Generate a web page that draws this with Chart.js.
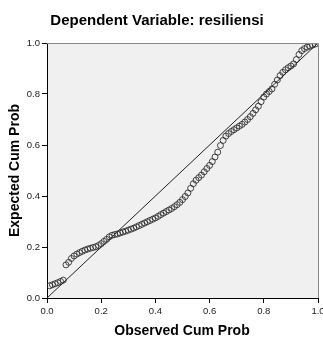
<!DOCTYPE html>
<html>
<head>
<meta charset="utf-8">
<script src="https://cdn.jsdelivr.net/npm/chart.js@4"></script>
<style>
  html, body { margin: 0; padding: 0; background: #fff; }
  #wrap { width: 323px; height: 338px; }
</style>
</head>
<body>
<div id="wrap"><canvas id="pp"></canvas></div>
<script>
const chartTitle = 'Dependent Variable: resiliensi';
const xTitle = 'Observed Cum Prob';
const yTitle = 'Expected Cum Prob';
const tickValues = [0, 0.2, 0.4, 0.6, 0.8, 1.0];

const observed = [
    0.01, 0.02, 0.03, 0.04, 0.05, 0.06, 0.07, 0.08, 0.09, 0.10,
    0.11, 0.12, 0.13, 0.14, 0.15, 0.16, 0.17, 0.18, 0.19, 0.20,
    0.21, 0.22, 0.23, 0.24, 0.25, 0.26, 0.27, 0.28, 0.29, 0.30,
    0.31, 0.32, 0.33, 0.34, 0.35, 0.36, 0.37, 0.38, 0.39, 0.40,
    0.41, 0.42, 0.43, 0.44, 0.45, 0.46, 0.47, 0.48, 0.49, 0.50,
    0.51, 0.52, 0.53, 0.54, 0.55, 0.56, 0.57, 0.58, 0.59, 0.60,
    0.61, 0.62, 0.63, 0.64, 0.65, 0.66, 0.67, 0.68, 0.69, 0.70,
    0.71, 0.72, 0.73, 0.74, 0.75, 0.76, 0.77, 0.78, 0.79, 0.80,
    0.81, 0.82, 0.83, 0.84, 0.85, 0.86, 0.87, 0.88, 0.89, 0.90,
    0.91, 0.92, 0.93, 0.94, 0.95, 0.96, 0.97, 0.98, 0.99
];
const expected = [
    0.048, 0.052, 0.056, 0.060, 0.065, 0.070, 0.130, 0.140, 0.155, 0.165,
    0.172, 0.178, 0.183, 0.188, 0.192, 0.195, 0.198, 0.201, 0.206, 0.213,
    0.222, 0.230, 0.240, 0.246, 0.249, 0.251, 0.255, 0.259, 0.262, 0.266,
    0.270, 0.274, 0.279, 0.284, 0.289, 0.294, 0.299, 0.304, 0.309, 0.314,
    0.320, 0.327, 0.333, 0.339, 0.345, 0.351, 0.358, 0.366, 0.375, 0.386,
    0.398, 0.412, 0.430, 0.448, 0.462, 0.472, 0.482, 0.495, 0.508, 0.520,
    0.535, 0.553, 0.572, 0.598, 0.618, 0.635, 0.645, 0.653, 0.660, 0.667,
    0.674, 0.681, 0.690, 0.700, 0.711, 0.724, 0.738, 0.752, 0.770, 0.788,
    0.800, 0.810, 0.820, 0.838, 0.855, 0.872, 0.885, 0.895, 0.903, 0.910,
    0.918, 0.935, 0.955, 0.970, 0.978, 0.984, 0.988, 0.992, 0.996
];
const refLine = [0, 1];

// Fond gris, cadre et textes
const framePlugin = {
    id: 'frame',
    beforeDraw(chart) {
        const { ctx, chartArea: a } = chart;
        ctx.save();
        ctx.fillStyle = '#f0f0f0';
        ctx.fillRect(a.left, a.top, a.right - a.left, a.bottom - a.top);
        ctx.restore();
    },
    afterDraw(chart) {
        const { ctx, chartArea: a } = chart;
        ctx.save();
        ctx.strokeStyle = '#8a8a8a';
        ctx.lineWidth = 1;
        ctx.beginPath();
        ctx.moveTo(a.left, a.top + 0.5);
        ctx.lineTo(a.right + 0.5, a.top + 0.5);
        ctx.lineTo(a.right + 0.5, a.bottom);
        ctx.stroke();

        ctx.fillStyle = '#000';
        ctx.textAlign = 'center';
        ctx.textBaseline = 'middle';
        ctx.font = 'bold 15px "Liberation Sans", Arial, sans-serif';
        ctx.fillText(chartTitle, 157, 21);
        ctx.font = 'bold 14px "Liberation Sans", Arial, sans-serif';
        ctx.fillText(xTitle, 182, 331);
        ctx.translate(15, (a.top + a.bottom) / 2);
        ctx.rotate(-Math.PI / 2);
        ctx.fillText(yTitle, 0, 0);
        ctx.restore();
    }
};

const tickFont = { family: '"Liberation Sans", Arial, sans-serif', size: 9.5 };

new Chart(document.getElementById('pp'), {
    type: 'scatter',
    data: {
        datasets: [
            {
                label: 'ref',
                type: 'line',
                data: refLine.map(v => ({ x: v, y: v })),
                borderColor: '#222',
                borderWidth: 1,
                pointRadius: 0,
                fill: false,
                order: 1
            },
            {
                label: 'points',
                data: observed.map((x, i) => ({ x: x, y: expected[i] })),
                pointRadius: 3,
                pointBorderWidth: 1,
                pointBackgroundColor: 'rgba(0,0,0,0)',
                pointBorderColor: 'rgba(40,40,40,0.85)',
                order: 0
            }
        ]
    },
    options: {
        responsive: true,
        maintainAspectRatio: false,
        animation: false,
        layout: { padding: { left: 0, top: 43, right: 5, bottom: 0 } },
        plugins: {
            legend: { display: false },
            tooltip: { enabled: false }
        },
        scales: {
            x: {
                type: 'linear',
                min: 0, max: 1,
                afterBuildTicks: s => { s.ticks = tickValues.map(v => ({ value: v })); },
                afterFit: s => { s.height = 40; s.paddingLeft = 0; s.paddingRight = 0; },
                grid: { display: true, drawOnChartArea: false, drawTicks: true, tickLength: 5, color: '#000' },
                border: { display: true, color: '#000', width: 1 },
                ticks: { font: tickFont, color: '#222', padding: 3, maxRotation: 0, callback: v => v.toFixed(1) }
            },
            y: {
                type: 'linear',
                min: 0, max: 1,
                afterBuildTicks: s => { s.ticks = tickValues.map(v => ({ value: v })); },
                afterFit: s => { s.width = 47; s.paddingTop = 0; s.paddingBottom = 0; },
                grid: { display: true, drawOnChartArea: false, drawTicks: true, tickLength: 5, color: '#000' },
                border: { display: true, color: '#000', width: 1 },
                ticks: { font: tickFont, color: '#222', padding: 2, callback: v => v.toFixed(1) }
            }
        }
    },
    plugins: [framePlugin]
});
</script>
</body>
</html>
